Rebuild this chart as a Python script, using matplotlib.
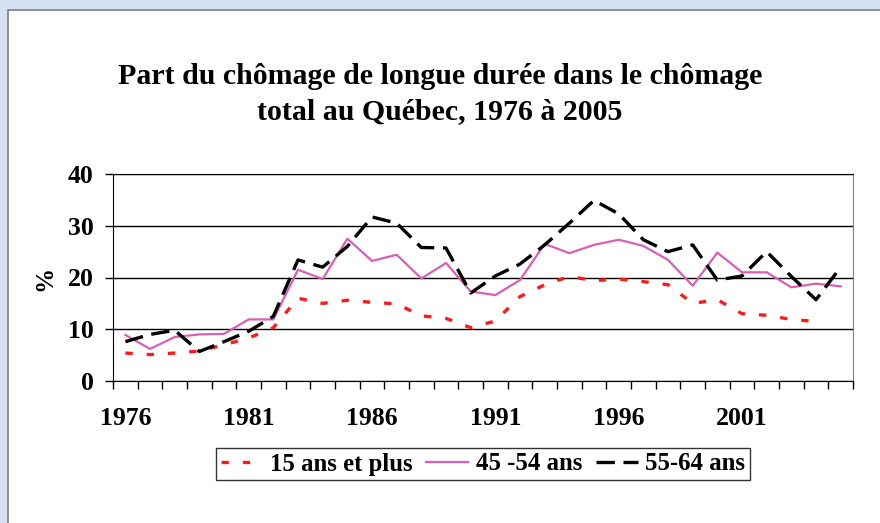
import numpy as np
import matplotlib
matplotlib.use("Agg")
import matplotlib.pyplot as plt
from matplotlib.patches import Rectangle

# Part du chômage de longue durée (%), Québec
years = list(range(1976, 2006))
ans_15_plus = [5.4, 5.1, 5.4, 5.8, 7.0, 8.3, 10.3, 16.0, 15.0, 15.6,
               15.2, 14.9, 12.6, 12.1, 10.3, 11.6, 16.3, 18.6, 20.2, 19.4,
               19.7, 19.2, 18.6, 15.0, 15.7, 13.0, 12.7, 11.9, 11.5, np.nan]
ans_45_54 = [8.9, 6.2, 8.5, 9.0, 9.1, 11.9, 11.9, 21.5, 19.7, 27.5,
             23.2, 24.4, 19.8, 22.8, 17.3, 16.6, 19.5, 26.5, 24.7, 26.3,
             27.3, 26.1, 23.4, 18.4, 24.8, 21.0, 21.0, 18.1, 18.8, 18.3]
ans_55_64 = [7.6, 9.0, 9.8, 5.7, 7.6, 9.6, 12.5, 23.4, 22.0, 26.0,
             31.7, 30.5, 25.8, 25.7, 17.0, 20.3, 22.6, 26.3, 30.5, 34.9,
             32.3, 27.3, 25.0, 26.3, 19.5, 20.3, 25.0, 20.2, 15.7, 22.0]
year_labels = ["1976", "1981", "1986", "1991", "1996", "2001"]

fig = plt.figure(figsize=(8.8, 5.23), dpi=100)
fig.patch.set_facecolor("#d6e2f3")
fig.patches.append(Rectangle((8 / 880, -0.01), 1, 1.01 - 10 / 523, transform=fig.transFigure,
                             facecolor="white", edgecolor="#808080", lw=1.2, zorder=-10))

ax = fig.add_axes([113 / 880, 1 - 381 / 523, 740 / 880, 207 / 523])
ax.set_facecolor("white")

x = np.arange(len(years))
ax.plot(x, ans_15_plus, color="#ff1a1a", lw=2.4, dashes=(2.2, 4.2), label="15 ans et plus")
ax.plot(x, ans_45_54, color="#d95fb5", lw=1.6, label="45 -54 ans")
ax.plot(x, ans_55_64, color="black", lw=2.4, dashes=(5.5, 2.6), label="55-64 ans")

serif = ["Liberation Serif", "DejaVu Serif"]
ax.set_xlim(-0.5, len(years) - 0.5)
ax.set_ylim(0, 40)
ax.set_yticks([0, 10, 20, 30, 40])
ax.set_xticks(np.arange(-0.5, len(years), 1.0))
ax.set_xticklabels([])
ax.set_xticks([years.index(int(y)) for y in year_labels], minor=True)
ax.set_xticklabels(year_labels, minor=True)
ax.tick_params(axis="x", which="major", length=6, direction="out", width=1)
ax.tick_params(axis="x", which="minor", length=0, pad=19)
ax.tick_params(axis="y", length=6, direction="out", width=1, pad=8)
for lab in ax.get_xticklabels(minor=True) + ax.get_yticklabels():
    lab.set_fontfamily(serif)
    lab.set_fontweight("bold")
    lab.set_fontsize(18.5)

ax.grid(axis="y", color="black", lw=1)
ax.set_axisbelow(True)
for side in ["left", "bottom", "top"]:
    ax.spines[side].set_color("black")
ax.spines["right"].set_color("#808080")

fig.text(45 / 880, 1 - 278 / 523, "%", rotation=90, ha="center", va="center",
         fontfamily=serif, fontweight="bold", fontsize=18)
fig.text(440 / 880, 1 - 77 / 523, "Part du chômage de longue durée dans le chômage",
         ha="center", va="center", fontfamily=serif, fontweight="bold", fontsize=21.5)
fig.text(440 / 880, 1 - 112 / 523, "total au Québec, 1976 à 2005",
         ha="center", va="center", fontfamily=serif, fontweight="bold", fontsize=21.5)

leg = fig.legend(loc="center", bbox_to_anchor=(483 / 880, 1 - 464 / 523), ncol=3,
                 frameon=True, fancybox=False, edgecolor="black", handlelength=1.7,
                 columnspacing=0.55, handletextpad=0.3, borderpad=0.2, borderaxespad=0,
                 prop={"family": serif, "weight": "bold", "size": 17.8})
leg.get_frame().set_linewidth(1)

fig.savefig("out.png", dpi=100, facecolor=fig.get_facecolor())
